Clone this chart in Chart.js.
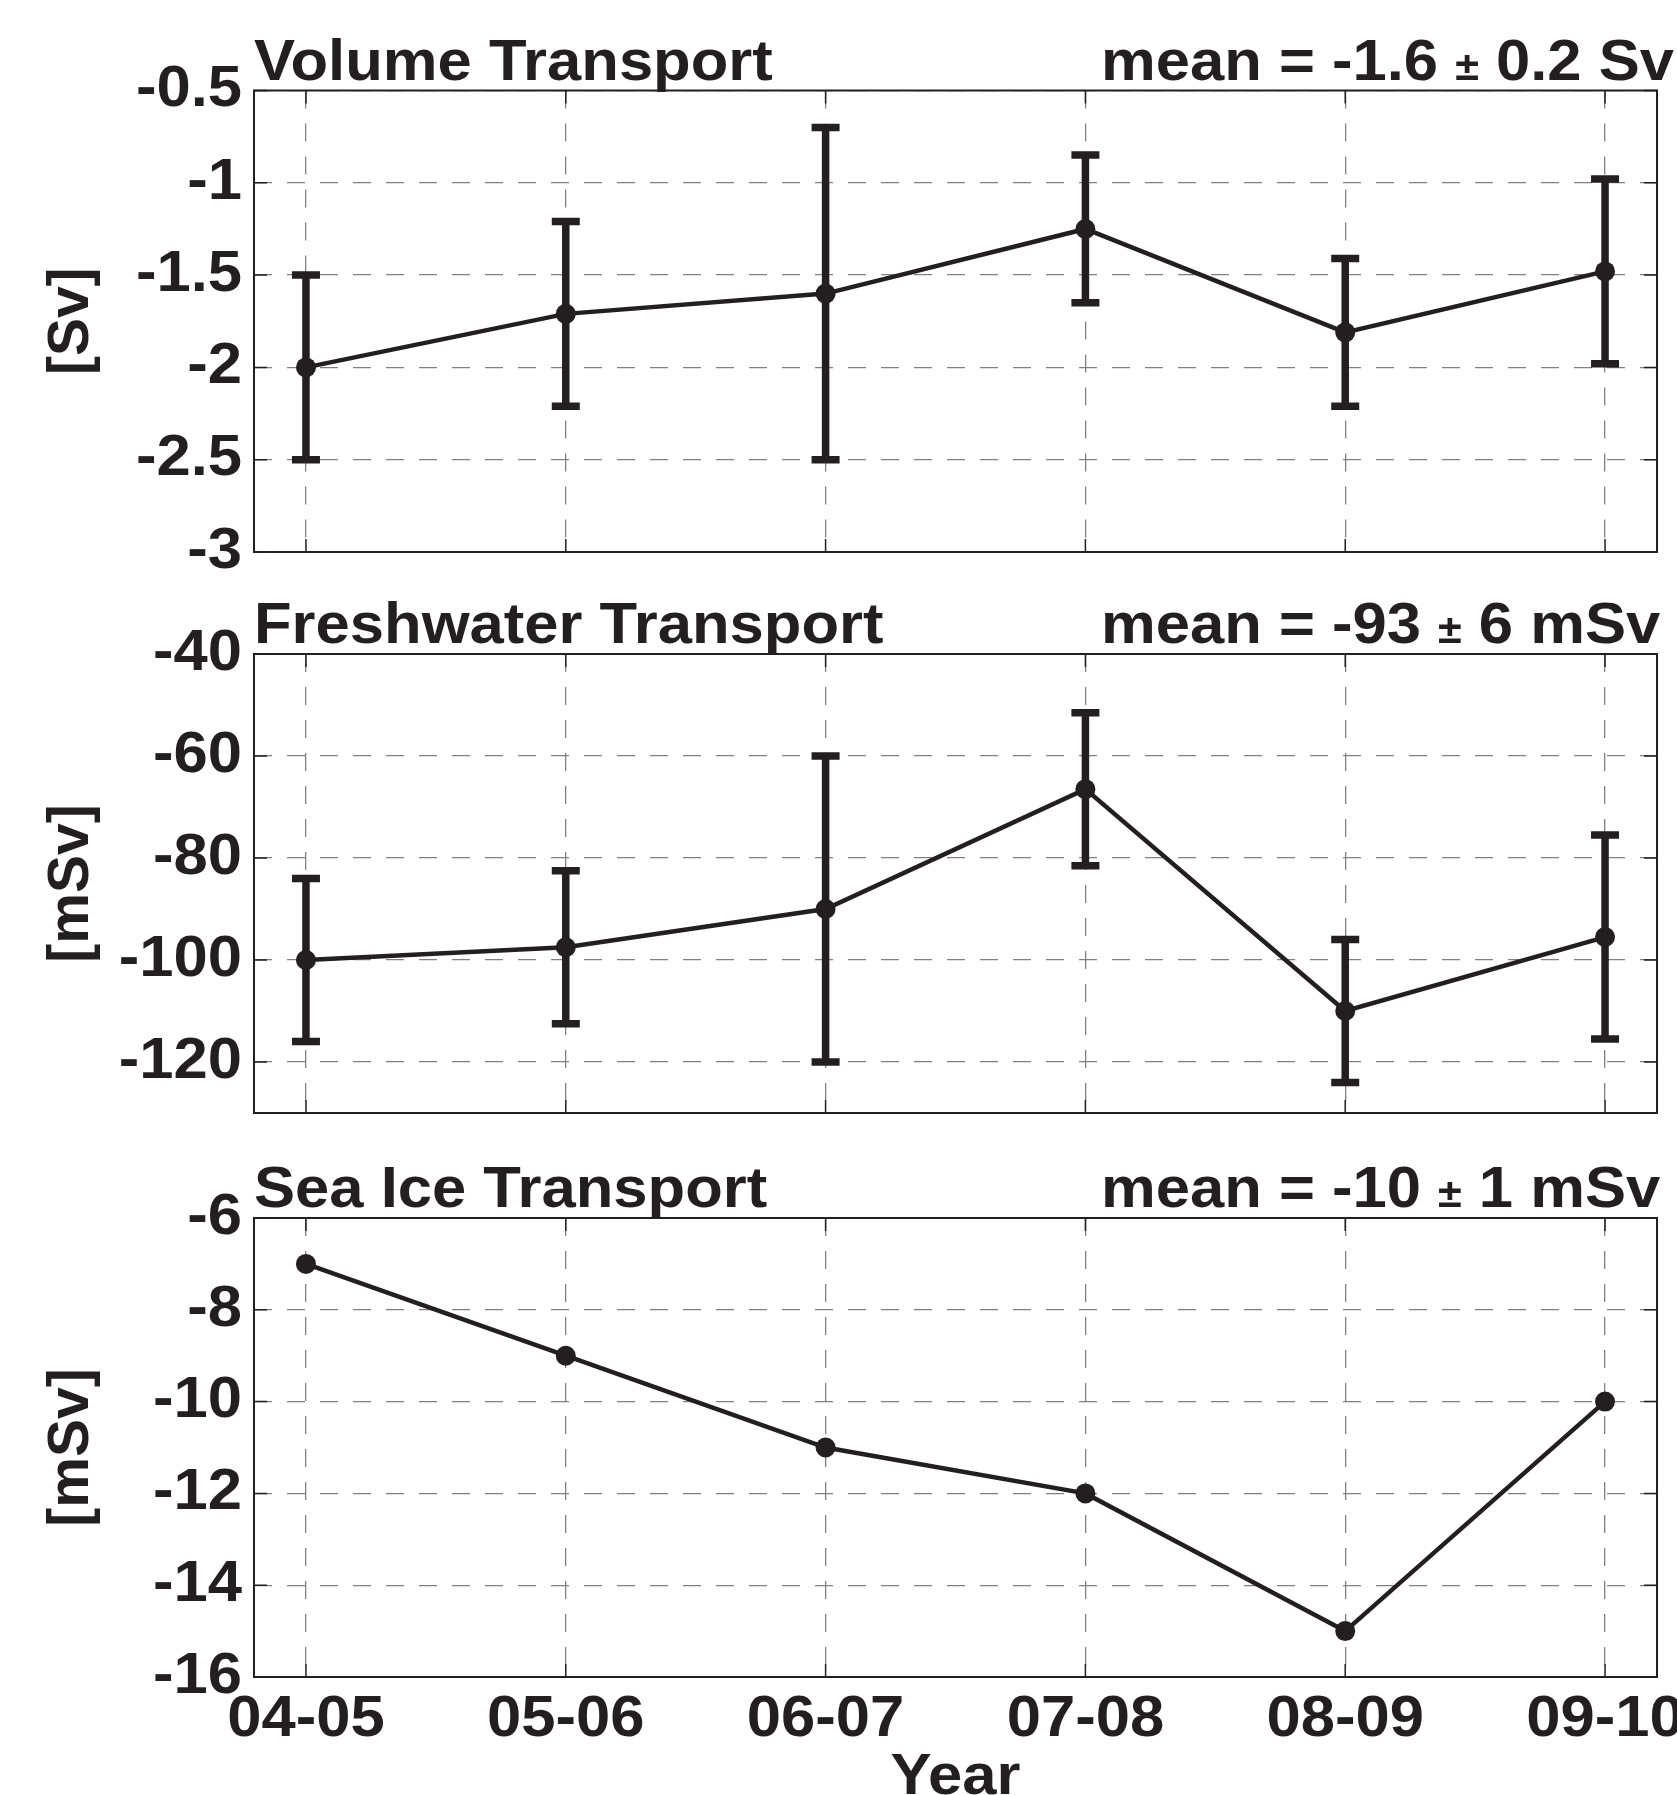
<!DOCTYPE html>
<html>
<head>
<meta charset="utf-8">
<script src="https://cdn.jsdelivr.net/npm/chart.js@4"></script>
<style>
  html, body { margin: 0; padding: 0; background: #fff; overflow: hidden; }
  #page { position: relative; width: 1677px; height: 1795px; overflow: hidden; background: #fff; }
  .panel { position: absolute; left: 0; width: 1677px; }
  canvas { display: block; }
</style>
</head>
<body>
<div id="page">
  <div class="panel" style="top:0px"><canvas id="volumeChart" width="1677" height="600"></canvas></div>
  <div class="panel" style="top:600px"><canvas id="freshwaterChart" width="1677" height="560"></canvas></div>
  <div class="panel" style="top:1160px"><canvas id="seaIceChart" width="1677" height="670"></canvas></div>
</div>
<script>
// Data
const years = ['04-05', '05-06', '06-07', '07-08', '08-09', '09-10'];

const volume = [-2.0, -1.71, -1.6, -1.25, -1.81, -1.48];
const volumeErr = [0.5, 0.5, 0.9, 0.4, 0.4, 0.5];
const volumeTicks = [-3, -2.5, -2, -1.5, -1, -0.5];

const freshwater = [-100, -97.5, -90, -66.5, -110, -95.5];
const freshwaterErr = [16, 15, 30, 15, 14, 20];
const freshwaterTicks = [-120, -100, -80, -60, -40];

const seaIce = [-7, -9, -11, -12, -15, -10];
const seaIceTicks = [-16, -14, -12, -10, -8, -6];

const ink = '#231f20';
const gridColor = '#808080';
const fontFamily = '"Liberation Sans", Arial, Helvetica, sans-serif';
const bigFont = { family: fontFamily, size: 57, weight: 'bold' };
const big = 'bold 57px ' + fontFamily;
const small = 'bold 40px ' + fontFamily;
const stretch = 1.08; // the original lettering is a little wider than Liberation Sans

// draw text a bit wider than the font, returns the drawn width
function wideText(ctx, text, x, y, align) {
    const w = ctx.measureText(text).width * stretch;
    let x0 = x;
    if (align === 'right') x0 = x - w;
    else if (align === 'center') x0 = x - w / 2;
    ctx.save();
    ctx.translate(x0, y);
    ctx.scale(stretch, 1);
    ctx.textAlign = 'left';
    ctx.fillText(text, 0, 0);
    ctx.restore();
    return w;
}

// Error bars, drawn under the line
const errorBars = {
    id: 'errorBars',
    beforeDatasetsDraw(chart) {
        const ds = chart.data.datasets[0];
        if (!ds.errorBars) return;
        const ctx = chart.ctx;
        const y = chart.scales.y;
        const meta = chart.getDatasetMeta(0);
        ctx.save();
        ctx.strokeStyle = ink;
        ctx.lineWidth = 7.5;
        ctx.lineCap = 'butt';
        meta.data.forEach((pt, i) => {
            const v = ds.data[i].y;
            const e = ds.errorBars[i];
            const yTop = y.getPixelForValue(v + e);
            const yBot = y.getPixelForValue(v - e);
            ctx.beginPath();
            ctx.moveTo(pt.x, yTop - 3.5);
            ctx.lineTo(pt.x, yBot + 3.5);
            ctx.moveTo(pt.x - 14, yTop);
            ctx.lineTo(pt.x + 14, yTop);
            ctx.moveTo(pt.x - 14, yBot);
            ctx.lineTo(pt.x + 14, yBot);
            ctx.stroke();
        });
        ctx.restore();
    }
};

// Box, inward tick marks, tick labels and the panel titles
const frame = {
    id: 'frame',
    afterDraw(chart, args, opts) {
        const { ctx, chartArea: a, scales: { x, y } } = chart;
        ctx.save();
        ctx.strokeStyle = ink;
        ctx.lineWidth = 2;
        ctx.strokeRect(a.left, a.top, a.right - a.left, a.bottom - a.top);

        ctx.lineWidth = 1.5;
        ctx.beginPath();
        y.ticks.forEach(t => {
            const py = y.getPixelForValue(t.value);
            ctx.moveTo(a.left, py); ctx.lineTo(a.left + 13, py);
            ctx.moveTo(a.right, py); ctx.lineTo(a.right - 13, py);
        });
        x.ticks.forEach(t => {
            const px = x.getPixelForValue(t.value);
            ctx.moveTo(px, a.bottom); ctx.lineTo(px, a.bottom - 13);
            ctx.moveTo(px, a.top); ctx.lineTo(px, a.top + 13);
        });
        ctx.stroke();

        ctx.fillStyle = ink;
        ctx.font = big;

        // tick labels
        ctx.textBaseline = 'middle';
        y.ticks.forEach(t => wideText(ctx, String(t.value), a.left - 12, y.getPixelForValue(t.value), 'right'));
        if (opts.showX) {
            x.ticks.forEach(t => wideText(ctx, years[t.value], x.getPixelForValue(t.value), a.bottom + 43, 'center'));
        }

        ctx.textBaseline = 'alphabetic';
        if (opts.showX) wideText(ctx, 'Year', (a.left + a.right) / 2, a.bottom + 117, 'center');

        const base = a.top - 11;
        wideText(ctx, opts.title, a.left, base, 'left');

        // mean text, with a smaller plus-minus sign
        const parts = opts.mean.split('±');
        let px = 1101;
        px += wideText(ctx, parts[0], px, base, 'left');
        ctx.font = small;
        px += wideText(ctx, '±', px, base, 'left');
        ctx.font = big;
        wideText(ctx, parts[1], px, base, 'left');
        ctx.restore();
    }
};

function makePanel(id, values, errs, yMin, yMax, yTicks, yTitle, title, mean, plotTop, xHeight, showX) {
    const ctx = document.getElementById(id).getContext('2d');
    return new Chart(ctx, {
        type: 'line',
        data: {
            datasets: [{
                data: values.map((v, i) => ({ x: i, y: v })),
                errorBars: errs,
                borderColor: ink,
                borderWidth: 4.5,
                pointRadius: 10,
                pointBackgroundColor: ink,
                pointBorderWidth: 0,
                tension: 0
            }]
        },
        options: {
            responsive: false,
            animation: false,
            layout: { padding: { top: plotTop, right: 20, left: 0, bottom: 0 } },
            plugins: {
                legend: { display: false },
                tooltip: { enabled: false },
                frame: { title: title, mean: mean, showX: showX }
            },
            scales: {
                x: {
                    type: 'linear',
                    min: -0.2,
                    max: 5.2,
                    afterBuildTicks: s => { s.ticks = years.map((_, i) => ({ value: i })); },
                    afterFit: s => { s.height = xHeight; s.paddingLeft = 0; s.paddingRight = 0; },
                    ticks: { display: false },
                    grid: { color: gridColor, lineWidth: 1.3, drawTicks: false },
                    border: { display: false, dash: [18, 15] }
                },
                y: {
                    min: yMin,
                    max: yMax,
                    afterBuildTicks: s => { s.ticks = yTicks.map(v => ({ value: v })); },
                    afterFit: s => { s.width = 254; },
                    ticks: { display: false },
                    grid: { color: gridColor, lineWidth: 1.3, drawTicks: false },
                    border: { display: false, dash: [18, 15] },
                    title: {
                        display: true,
                        text: yTitle,
                        font: bigFont,
                        color: ink,
                        padding: { top: 38, bottom: 0 }
                    }
                }
            }
        },
        plugins: [errorBars, frame]
    });
}

makePanel('volumeChart', volume, volumeErr, -3, -0.5, volumeTicks, '[Sv]',
    'Volume Transport', 'mean = -1.6 ± 0.2 Sv', 90.5, 48, false);
makePanel('freshwaterChart', freshwater, freshwaterErr, -130, -40, freshwaterTicks, '[mSv]',
    'Freshwater Transport', 'mean = -93 ± 6 mSv', 54, 47, false);
makePanel('seaIceChart', seaIce, null, -16, -6, seaIceTicks, '[mSv]',
    'Sea Ice Transport', 'mean = -10 ± 1 mSv', 58, 153, true);
</script>
</body>
</html>
